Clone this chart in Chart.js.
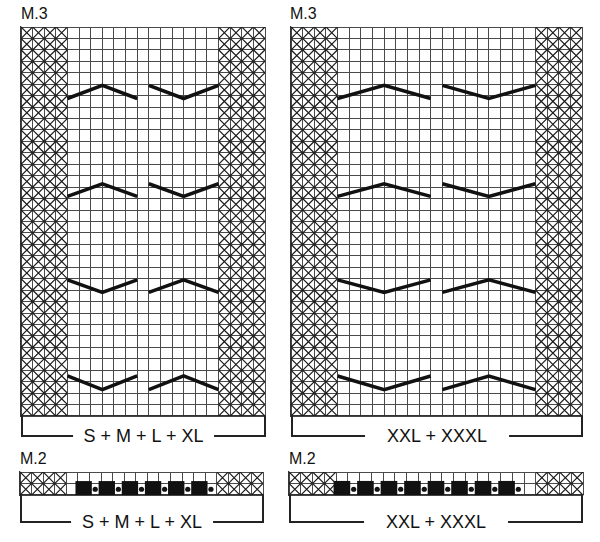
<!DOCTYPE html>
<html>
<head>
<meta charset="utf-8">
<script src="https://cdn.jsdelivr.net/npm/chart.js@4"></script>
<style>
  body { margin: 0; width: 600px; height: 542px; background: #fff; position: relative; overflow: hidden;
         font-family: "Liberation Sans", Arial, sans-serif; color: #111; }
  canvas { position: absolute; }
  .title { position: absolute; font-size: 16px; }
  .bracket { position: absolute; border: 2px solid #222; border-top: none; box-sizing: border-box; }
  .bracket span { position: absolute; left: 50%; bottom: -11px; transform: translateX(-50%);
                  background: #fff; font-size: 18px; line-height: 20px; white-space: nowrap; }
</style>
</head>
<body>
<div class="title" style="left:21px;top:5px">M.3</div>
<div class="title" style="left:290px;top:5px">M.3</div>
<div class="title" style="left:20px;top:450px">M.2</div>
<div class="title" style="left:289px;top:450px">M.2</div>

<canvas id="m3a" width="248" height="393" style="left:19px;top:25px"></canvas>
<canvas id="m3b" width="295" height="393" style="left:289px;top:25px"></canvas>
<canvas id="m2a" width="247" height="27" style="left:18px;top:470px"></canvas>
<canvas id="m2b" width="298" height="27" style="left:287px;top:470px"></canvas>

<div class="bracket" style="left:21px;top:416px;width:245px;height:21px"><span style="padding:0 11px">S + M + L + XL</span></div>
<div class="bracket" style="left:291px;top:416px;width:292px;height:21px"><span style="padding:0 22px">XXL + XXXL</span></div>
<div class="bracket" style="left:20px;top:495px;width:244px;height:28px"><span style="padding:0 11px">S + M + L + XL</span></div>
<div class="bracket" style="left:289px;top:495px;width:294px;height:28px"><span style="padding:0 22px">XXL + XXXL</span></div>

<script>
// grid sizes
const m3Rows = 34;
const m2Rows = 2;
const smallCols = 21;
const bigCols = 25;
const edgeCols = 4;

// chevron rows (row units from top): upper and lower edge
const chevronHigh = [5.1, 13.7, 22.1, 30.5];
const chevronLow = [6.25, 14.8, 23.2, 31.7];
// shape of the left chevron in each set ('^' or 'v'); right one is opposite
const leftShape = ['^', '^', 'v', 'v'];
// chevron column anchors [start, tip, end]
const smallLeftChev = [4, 7, 10], smallRightChev = [11, 14, 17];
const bigLeftChev = [4, 8, 12], bigRightChev = [13, 17, 21];

// M.2 bottom row: columns with black squares and with dots
const smallBlack = [5, 7, 9, 11, 13, 15];
const smallDots = [6, 8, 10, 12, 14, 16];
const bigBlack = [4, 6, 8, 10, 12, 14, 16, 18];
const bigDots = [5, 7, 9, 11, 13, 15, 17, 19];

function crossCells(cols, rows) {
  const pts = [];
  for (let r = 0; r < rows; r++) {
    for (let c = 0; c < edgeCols; c++) {
      pts.push({ x: c + 0.5, y: r + 0.5 });
      pts.push({ x: cols - c - 0.5, y: r + 0.5 });
    }
  }
  return pts;
}

function chevron(cols, shape, hi, lo) {
  const up = shape === '^';
  return [
    { x: cols[0], y: up ? lo : hi },
    { x: cols[1], y: up ? hi : lo },
    { x: cols[2], y: up ? lo : hi }
  ];
}

function gridChart(id, cols, rows, datasets) {
  const canvas = document.getElementById(id);
  const cell = (canvas.width - 4) / cols;
  datasets.forEach(d => {
    if (d.cellSized) d.pointRadius = cell * d.cellSized;
  });
  return new Chart(canvas, {
    type: 'scatter',
    data: { datasets },
    options: {
      responsive: false,
      animation: false,
      layout: { padding: 2, autoPadding: false },
      plugins: { legend: { display: false }, tooltip: { enabled: false } },
      scales: {
        x: { type: 'linear', min: 0, max: cols,
             ticks: { display: false, stepSize: 1 },
             grid: { color: '#4a4a4a', lineWidth: 1, drawTicks: false },
             border: { color: '#333', width: 1.3 } },
        y: { type: 'linear', min: 0, max: rows, reverse: true,
             ticks: { display: false, stepSize: 1 },
             grid: { color: '#4a4a4a', lineWidth: 1, drawTicks: false },
             border: { color: '#333', width: 1.3 } }
      }
    }
  });
}

function crossSet(cols, rows) {
  return { data: crossCells(cols, rows), pointStyle: 'crossRot', cellSized: 0.68,
           borderColor: '#1a1a1a', borderWidth: 1.2, backgroundColor: '#1a1a1a', order: 2 };
}

function chevronSets(leftCols, rightCols) {
  const sets = [];
  chevronHigh.forEach((hi, i) => {
    const lo = chevronLow[i];
    const ls = leftShape[i];
    const rs = ls === '^' ? 'v' : '^';
    [chevron(leftCols, ls, hi, lo), chevron(rightCols, rs, hi, lo)].forEach(pts => {
      sets.push({ data: pts, showLine: true, pointRadius: 0, borderColor: '#111',
                  borderWidth: 3.5, order: 0 });
    });
  });
  return sets;
}

gridChart('m3a', smallCols, m3Rows, [crossSet(smallCols, m3Rows), ...chevronSets(smallLeftChev, smallRightChev)]);
gridChart('m3b', bigCols, m3Rows, [crossSet(bigCols, m3Rows), ...chevronSets(bigLeftChev, bigRightChev)]);

function m2Sets(cols, black, dots) {
  return [
    crossSet(cols, m2Rows),
    { data: black.map(c => ({ x: c + 0.5, y: 1.5 })), pointStyle: 'rect', cellSized: 1.0,
      backgroundColor: '#111', borderColor: '#111', borderWidth: 0, order: 1 },
    { data: dots.map(c => ({ x: c + 0.5, y: 1.5 })), pointStyle: 'circle', pointRadius: 2.6,
      backgroundColor: '#111', borderColor: '#111', borderWidth: 0, order: 1 }
  ];
}

gridChart('m2a', smallCols, m2Rows, m2Sets(smallCols, smallBlack, smallDots));
gridChart('m2b', bigCols, m2Rows, m2Sets(bigCols, bigBlack, bigDots));
</script>
</body>
</html>
